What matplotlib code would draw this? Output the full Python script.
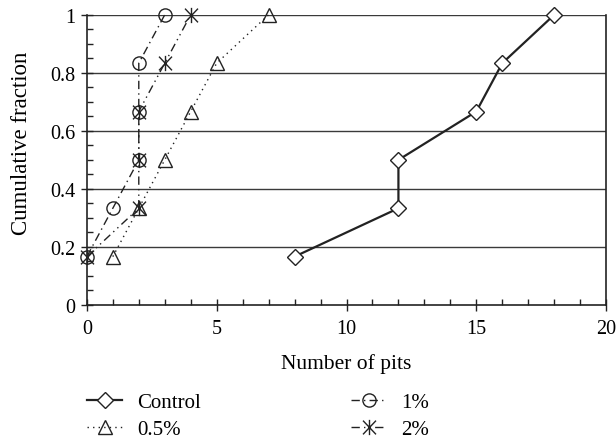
import matplotlib
matplotlib.use("Agg")
import matplotlib.pyplot as plt
from matplotlib.path import Path
from matplotlib.ticker import MultipleLocator, FixedLocator

plt.rcParams['font.family'] = ['Liberation Serif', 'DejaVu Serif']

# Cumulative fraction of samples versus number of pits
fractions = [1/6, 2/6, 3/6, 4/6, 5/6, 1.0]
pits_control = [8, 12, 12, 15, 16, 18]
pits_05 = [1, 2, 3, 4, 5, 7]
pits_1 = [0, 1, 2, 2, 2, 3]
pits_2 = [0, 2, 2, 2, 3, 4]

labels = ["Control", "0.5%", "1%", "2%"]

# asterisk marker: vertical stroke crossed by an X
star = Path([(0, -1), (0, 1), (-0.85, -0.9), (0.85, 0.9), (-0.85, 0.9), (0.85, -0.9)],
            [Path.MOVETO, Path.LINETO, Path.MOVETO, Path.LINETO, Path.MOVETO, Path.LINETO])

fig = plt.figure(figsize=(6.16, 4.39), dpi=100)
ax = fig.add_axes([0.141, 0.303, 0.843, 0.661])

for y in [0.2, 0.4, 0.6, 0.8, 1.0]:
    ax.axhline(y, color='#3a3a3a', lw=1.0, zorder=0)

mk = dict(markerfacecolor='white', markeredgecolor='#222222', color='#222222')
h_ctrl, = ax.plot(pits_control, fractions, '-', marker='D', ms=8.5, lw=1.6,
                  markeredgewidth=1.0, label=labels[0], **mk)
h_05, = ax.plot(pits_05, fractions, linestyle=(0, (1, 3)), marker='^', ms=10.5, lw=1.0,
                markeredgewidth=1.0, label=labels[1], **mk)
h_1, = ax.plot(pits_1, fractions, linestyle=(0, (6, 3, 1, 3)), marker='o', ms=9.5, lw=1.0,
               markeredgewidth=1.0, label=labels[2], **mk)
h_2, = ax.plot(pits_2, fractions, linestyle=(0, (6, 3, 1, 3, 1, 3)), marker=star, ms=11,
               lw=1.0, markeredgewidth=1.0, label=labels[3], **mk)
for h in (h_05, h_1, h_2):
    h.set_fillstyle('none')

ax.set_xlim(0, 20)
ax.set_ylim(0, 1)
ax.xaxis.set_major_locator(MultipleLocator(5))
ax.xaxis.set_minor_locator(MultipleLocator(1))
ax.yaxis.set_major_locator(FixedLocator([0, 0.2, 0.4, 0.6, 0.8, 1.0]))
ax.yaxis.set_minor_locator(MultipleLocator(0.05))
ax.set_yticklabels(["0", "0.2", "0.4", "0.6", "0.8", "1"])
ax.tick_params(axis='both', which='major', direction='inout', length=8, width=1.0,
               labelsize=14.5, colors='#222222', pad=4)
ax.tick_params(axis='both', which='minor', direction='in', length=4, width=1.0,
               colors='#222222')
ax.tick_params(axis='x', which='major', pad=6)

for side in ['left', 'bottom', 'right']:
    ax.spines[side].set_color('#222222')
    ax.spines[side].set_linewidth(1.2)
ax.spines['top'].set_visible(False)
for lab in ax.get_xticklabels() + ax.get_yticklabels():
    lab.set_color('black')

ax.set_xlabel("Number of pits", fontsize=15.5, labelpad=11)
ax.set_ylabel("Cumulative fraction", fontsize=16.5, labelpad=6)
ax.yaxis.set_label_coords(-0.105, 0.56)

for artist in (h_ctrl, h_05, h_1, h_2):
    artist.set_clip_on(False)

fig.legend(handles=[h_ctrl, h_05, h_1, h_2], labels=labels, ncol=2,
           loc='upper left', bbox_to_anchor=(0.141, 0.103), frameon=False,
           borderpad=0, borderaxespad=0,
           fontsize=15, handlelength=1.7, columnspacing=7.2, labelspacing=0.35,
           handletextpad=0.72)

fig.savefig("out.png", dpi=100)
